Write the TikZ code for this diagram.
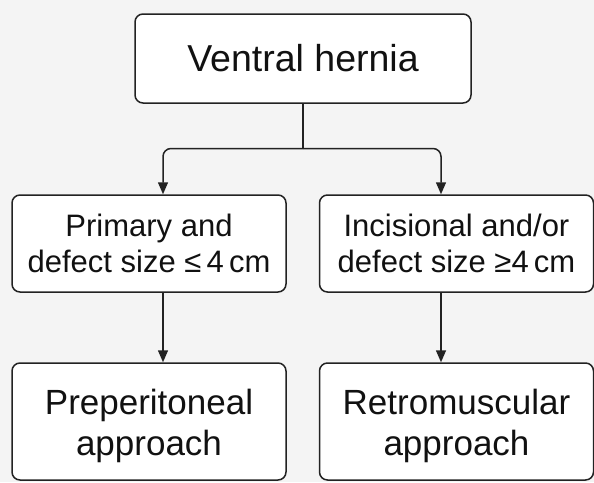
\documentclass[tikz,border=0pt]{standalone}
\usepackage{fontspec}
\setmainfont{Liberation Sans}
\usetikzlibrary{arrows.meta}
\definecolor{bgc}{HTML}{F4F4F4}
\definecolor{linec}{HTML}{222222}
\definecolor{txtc}{HTML}{111111}
\newcommand{\lowered}[1]{\raisebox{-5pt}[\height][\depth]{\begin{tabular}{@{}c@{}}#1\end{tabular}}}
\tikzset{
  boxstyle/.style={draw=linec, line width=1.5pt, fill=white, rounded corners=8pt,
    align=center, text=txtc, inner sep=0pt},
  topbox/.style={boxstyle, minimum width=336pt, minimum height=89pt,
    font=\fontsize{37.5}{44}\selectfont},
  midbox/.style={boxstyle, minimum width=274pt, minimum height=97pt,
    font=\fontsize{31}{36}\selectfont},
  botbox/.style={boxstyle, minimum width=274pt, minimum height=117pt,
    font=\fontsize{35}{41}\selectfont},
  conn/.style={draw=linec, line width=1.5pt},
  arr/.style={conn, -{Triangle[length=12pt,width=10pt]}}
}
\begin{document}
\begin{tikzpicture}[x=1pt,y=-1pt]
\fill[bgc] (0,0) rectangle (594,482);
\useasboundingbox (0,0) rectangle (594,482);
\node[topbox] (top) at (303,58.5) {Ventral hernia};
\node[midbox] (l1) at (149,243.5) {Primary and\\defect size ≤\,4\,cm};
\node[midbox] (r1) at (456.5,243.5) {Incisional and/or\\defect size ≥4\,cm};
\node[botbox] (l2) at (149,421.5) {\lowered{Preperitoneal\\approach}};
\node[botbox] (r2) at (456.5,421.5) {\lowered{Retromuscular\\approach}};
\coordinate (j) at (303,148.5);
\coordinate (xl) at (163,0);
\coordinate (xr) at (441,0);
\draw[conn] (top.south) -- (j);
\draw[arr, rounded corners=8pt] (j) -| (l1.north -| xl);
\draw[arr, rounded corners=8pt] (j) -| (r1.north -| xr);
\draw[arr] (l1.south -| xl) -- (l2.north -| xl);
\draw[arr] (r1.south -| xr) -- (r2.north -| xr);
\end{tikzpicture}
\end{document}
